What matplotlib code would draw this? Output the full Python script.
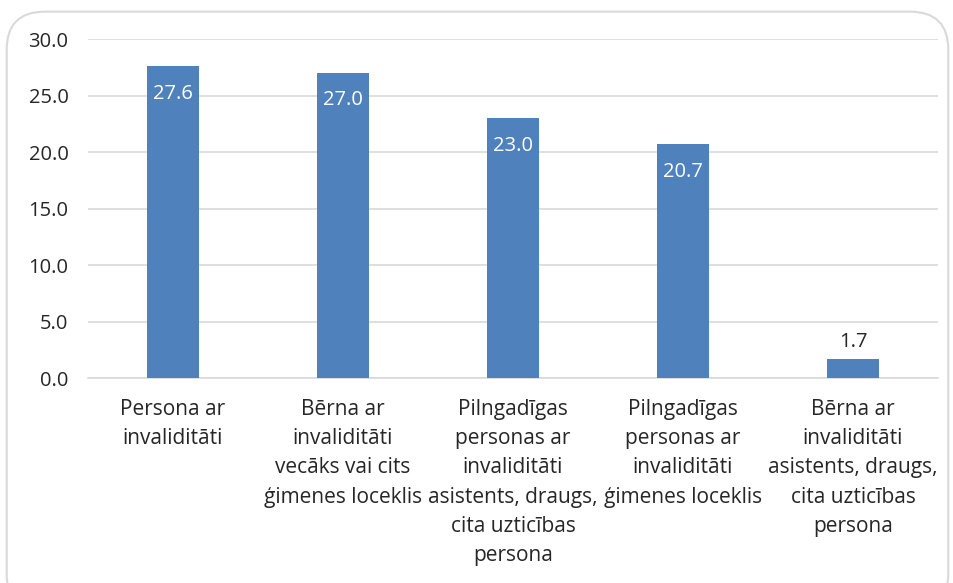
import matplotlib
matplotlib.use("Agg")
import matplotlib.pyplot as plt
from matplotlib.patches import FancyBboxPatch

categories = [
    "Persona ar\ninvaliditāti",
    "Bērna ar\ninvaliditāti\nvecāks vai cits\nģimenes loceklis",
    "Pilngadīgas\npersonas ar\ninvaliditāti\nasistents, draugs,\ncita uzticības\npersona",
    "Pilngadīgas\npersonas ar\ninvaliditāti\nģimenes loceklis",
    "Bērna ar\ninvaliditāti\nasistents, draugs,\ncita uzticības\npersona",
]
values = [27.6, 27.0, 23.0, 20.7, 1.7]
yticks = [0, 5, 10, 15, 20, 25, 30]

plt.rcParams['font.family'] = ['Open Sans', 'DejaVu Sans']

fig = plt.figure(figsize=(9.54, 5.83), dpi=100)
frame = FancyBboxPatch((0.007, -0.05), 0.987, 1.03, boxstyle="round,pad=0,rounding_size=0.04",
                       transform=fig.transFigure, facecolor="white", edgecolor="#d9d9d9",
                       linewidth=1.5, mutation_aspect=954/583, zorder=0)
fig.patches.append(frame)

ax = fig.add_axes([0.0922, 0.3516, 0.891, 0.5815])
ax.set_zorder(2)
ax.set_facecolor("none")
x = list(range(len(values)))
bars = ax.bar(x, values, width=0.31, color="#4f81bd", zorder=3)
ax.set_xlim(-0.5, len(values) - 0.5)
ax.set_ylim(0, 30)
ax.set_yticks(yticks)
ax.set_yticklabels([f"{v:.1f}" for v in yticks], fontsize=14.5, color="#262626")
ax.set_xticks(x)
ax.set_xticklabels(categories, fontsize=15, color="#262626", linespacing=1.52, va="top")
ax.tick_params(axis="x", length=0, pad=15)
ax.tick_params(axis="y", length=0, pad=14)
ax.grid(axis="y", color="#d9d9d9", linewidth=1.2, zorder=0)
for s in ["top", "right", "left"]:
    ax.spines[s].set_visible(False)
ax.spines["bottom"].set_color("#d9d9d9")
ax.spines["bottom"].set_linewidth(1.2)

for xi, v in zip(x, values):
    if v > 5:
        ax.text(xi, v - 1.55, f"{v:.1f}", ha="center", va="top", color="white", fontsize=14.5, zorder=4)
    else:
        ax.text(xi, v + 0.6, f"{v:.1f}", ha="center", va="bottom", color="#262626", fontsize=14.5, zorder=4)

fig.savefig("out.png", dpi=100)
